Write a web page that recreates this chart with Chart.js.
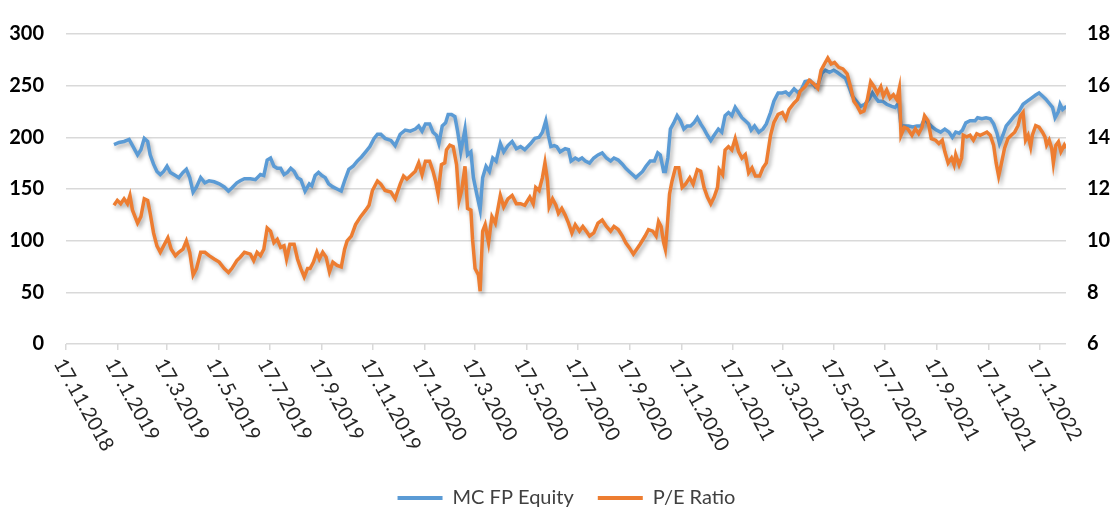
<!DOCTYPE html>
<html>
<head>
<meta charset="utf-8">
<script src="https://cdn.jsdelivr.net/npm/chart.js@4.4.1/dist/chart.umd.min.js"></script>
<style>
html,body{margin:0;padding:0;background:#ffffff;}
#wrap{width:1113px;height:511px;position:relative;}
</style>
</head>
<body>
<div id="wrap"><canvas id="c" width="1113" height="511"></canvas></div>
<script>
// ---- axis range & tick labels ----
const AXIS_START = "17.11.2018";
const AXIS_END = "17.2.2022";
const tickLabels = ["17.11.2018","17.1.2019","17.3.2019","17.5.2019","17.7.2019","17.9.2019","17.11.2019",
  "17.1.2020","17.3.2020","17.5.2020","17.7.2020","17.9.2020","17.11.2020","17.1.2021","17.3.2021",
  "17.5.2021","17.7.2021","17.9.2021","17.11.2021","17.1.2022"];
const leftAxis = {min: 0, max: 300, step: 50};
const rightAxis = {min: 6, max: 18, step: 2};
const seriesNames = ["MC FP Equity", "P/E Ratio"];

// ---- MC FP Equity (left axis): days after 17.11.2018, values ----
const mcDays = [57,63,69,75,81,85,89,93,97,100,104,108,112,116,120,124,130,134,139,143,147,151,155,160,165,170,176,182,188,193,197,203,207,212,
219,225,231,235,239,243,247,251,255,259,263,267,271,275,279,284,289,292,296,300,304,308,312,317,322,327,331,336,341,346,351,356,361,366,370,374,379,
386,391,397,403,409,415,419,423,427,432,436,440,443,447,451,454,458,462,465,469,474,477,481,484,488,492,495,499,503,507,511,516,520,525,530,535,540,545,
552,557,562,566,570,573,576,580,583,587,593,597,600,605,609,613,617,622,627,632,637,642,647,651,656,661,665,669,673,677,681,685,689,694,699,703,706,710,
712,715,718,722,726,730,734,738,742,746,750,754,758,762,766,770,775,779,783,787,791,795,799,803,807,811,814,818,823,828,832,837,841,846,851,855,859,865,870,874,878,
884,890,894,898,902,907,912,916,921,926,930,934,939,944,949,954,958,962,965,970,975,981,985,989,992,996,1001,1006,1011,1016,1020,1024,1029,1034,1039,1044,
1049,1053,1057,1061,1065,1069,1074,1080,1083,1088,1093,1098,1102,1106,1109,1113,1117,1122,1127,1132,1137,1142,1147,1152,1156,1160,1164,1168,1172,1175,1179,1181,1184,1187,1188];
const mcValues = [193,195,196,198,189,183,188,199,196,183,174,167,164,167,172,166,163,161,166,169,161,147,152,161,156,158,157,155,152,148,151,156,158,160,
160,159,164,163,178,180,172,170,170,164,166,170,167,161,159,148,155,153,163,166,163,161,155,152,150,148,158,169,172,177,181,186,191,199,203,203,199,
197,192,203,207,206,208,211,206,213,213,205,202,194,211,214,222,222,220,207,186,208,183,186,161,145,130,161,172,167,180,177,194,186,192,196,189,191,188,
194,199,200,205,216,202,191,192,191,186,189,188,177,180,178,180,177,175,180,183,185,180,177,180,178,174,170,167,164,161,164,167,172,177,177,185,183,167,
167,180,208,214,221,216,208,211,211,214,219,213,208,202,197,202,208,205,221,224,221,229,224,219,216,213,207,211,205,208,213,224,235,243,243,244,241,247,243,247,254,
255,249,252,262,265,263,265,263,260,257,249,240,235,230,232,237,243,238,235,235,232,230,229,233,211,211,211,210,211,211,218,214,210,207,205,208,
205,200,205,204,207,214,216,216,219,218,219,218,213,204,194,202,211,216,221,225,232,235,238,241,243,240,237,233,229,219,225,232,227,229,228];

// ---- P/E Ratio (right axis): days after 17.11.2018, values ----
const peDays = [57,61,65,69,73,76,79,85,89,93,97,100,104,108,112,116,121,125,130,134,139,143,147,151,155,160,165,170,176,182,188,193,197,203,207,212,
219,223,227,231,235,239,243,247,251,255,259,262,266,271,275,279,283,287,290,294,298,301,305,309,313,317,322,327,331,334,339,344,350,356,360,364,370,374,379,
386,391,397,401,405,409,415,419,423,427,432,436,439,442,446,450,452,456,460,464,467,470,474,477,481,483,486,490,492,495,498,502,506,510,516,520,525,530,535,540,545,
551,555,558,562,566,569,572,574,578,582,585,589,593,597,601,605,610,614,618,622,627,632,637,642,647,651,656,661,665,669,674,678,682,688,692,697,701,704,707,710,
712,714,717,720,724,728,732,736,741,745,750,754,758,762,766,770,774,776,780,783,787,791,795,799,803,807,811,815,819,824,828,832,837,841,846,851,855,859,865,869,872,878,
883,888,893,897,901,905,909,913,918,923,928,932,936,940,944,948,952,956,960,964,968,971,975,979,983,987,990,992,996,1000,1005,1009,1013,1017,1020,1024,1028,1033,1037,1041,1044,
1048,1052,1055,1057,1061,1064,1066,1070,1074,1078,1082,1086,1090,1094,1098,1102,1105,1108,1111,1115,1119,1123,1127,1131,1134,1137,1140,1143,1146,1148,1152,1156,1160,1163,1165,1168,1171,1173,1176,1179,1182,1186,1188];
const peValues = [11.37,11.56,11.43,11.62,11.43,11.75,11.18,10.68,10.93,11.62,11.56,11.06,10.30,9.80,9.55,9.80,10.11,9.67,9.42,9.55,9.67,9.99,9.55,8.67,8.92,9.55,9.55,9.42,9.29,9.17,8.92,8.77,8.92,9.23,9.36,9.55,
9.48,9.23,9.55,9.42,9.67,10.49,10.37,9.92,10.05,9.74,9.80,9.29,9.86,9.86,9.29,8.92,8.60,8.92,8.92,9.17,9.55,9.29,9.55,9.36,8.79,9.17,9.04,8.98,9.67,9.99,10.18,10.62,10.93,11.18,11.37,11.94,12.31,12.19,11.94,
11.88,11.62,12.19,12.50,12.38,12.50,12.69,13.01,12.56,13.07,13.07,12.69,12.31,11.81,12.94,13.01,13.51,13.70,13.64,12.94,11.56,11.94,12.88,11.25,11.18,10.05,8.92,8.67,8.04,10.37,10.62,9.92,10.93,10.68,11.75,11.31,11.62,11.75,11.43,11.43,11.37,
11.69,11.43,12.06,11.94,12.44,13.01,12.31,11.31,11.62,11.37,11.06,11.25,10.99,10.68,10.30,10.62,10.37,10.55,10.37,10.18,10.30,10.68,10.80,10.55,10.37,10.55,10.43,10.18,9.92,9.74,9.48,9.67,9.86,10.18,10.43,10.37,10.18,10.74,10.55,9.92,
9.67,10.43,11.81,12.31,12.82,12.82,12.06,12.19,12.44,12.19,12.75,12.69,12.06,11.69,11.43,11.69,12.06,12.75,12.56,13.51,13.64,13.51,13.95,13.45,13.20,13.33,12.63,12.82,12.50,12.50,12.82,13.01,14.08,14.58,14.89,14.96,14.71,15.08,15.33,15.46,15.77,15.96,
16.21,16.08,15.90,16.59,16.84,17.07,16.84,16.90,16.71,16.65,16.46,15.96,15.40,15.21,14.96,15.02,15.46,16.15,15.96,15.71,15.96,15.59,15.84,15.52,15.65,15.46,15.90,14.08,14.39,14.33,14.08,14.33,14.14,14.39,14.83,14.64,13.95,13.89,13.76,13.89,13.45,
13.01,13.20,12.94,13.33,12.94,13.20,14.08,14.02,14.08,13.89,14.14,14.08,14.14,14.20,14.08,13.70,13.01,12.50,12.94,13.58,13.95,14.08,14.20,14.45,14.83,14.96,13.89,14.08,13.64,14.08,14.45,14.39,14.20,14.02,13.70,13.89,13.58,13.01,13.70,13.83,13.45,13.70,13.58];

// ---- helpers ----
function parseDMY(s){ const p = s.split('.').map(Number); return Date.UTC(p[2], p[1]-1, p[0]); }
const START_MS = parseDMY(AXIS_START);
function dayOf(s){ return Math.round((parseDMY(s) - START_MS) / 86400000); }

const FONT = 'Lato, "Liberation Sans", Arial, sans-serif';
const BLUE = '#5B9BD5';
const ORANGE = '#ED7D31';

const shadowPlugin = {
  id: 'lineShadow',
  beforeDatasetDraw(chart) {
    const c = chart.ctx;
    c.save();
    c.shadowColor = 'rgba(0,0,0,0.32)';
    c.shadowBlur = 4;
    c.shadowOffsetX = 2;
    c.shadowOffsetY = 3;
  },
  afterDatasetDraw(chart) { chart.ctx.restore(); }
};

const xLabelPlugin = {
  id: 'rotatedXLabels',
  afterDraw(chart) {
    const xs = chart.scales.x;
    const c = chart.ctx;
    const base = chart.chartArea.bottom;
    c.save();
    c.font = '20px ' + FONT;
    c.fillStyle = '#262626';
    c.textAlign = 'left';
    c.textBaseline = 'middle';
    tickLabels.forEach(l => {
      const px = xs.getPixelForValue(dayOf(l));
      c.save();
      c.translate(px - 7, base + 16);
      c.rotate(61 * Math.PI / 180);
      c.fillText(l, 0, 0);
      c.restore();
    });
    c.restore();
  }
};

const legendShift = {
  id: 'legendShift',
  afterLayout(chart) {
    const lg = chart.legend;
    if (lg) { lg.left += 10; lg.right += 10; }
  }
};

const ctx = document.getElementById('c').getContext('2d');
new Chart(ctx, {
  type: 'line',
  data: {
    datasets: [
      {
        label: seriesNames[0],
        data: mcDays.map((d, i) => ({x: d, y: mcValues[i]})),
        yAxisID: 'y',
        borderColor: BLUE, backgroundColor: BLUE,
        borderWidth: 3.5, pointRadius: 0, tension: 0, order: 1
      },
      {
        label: seriesNames[1],
        data: peDays.map((d, i) => ({x: d, y: peValues[i]})),
        yAxisID: 'y1',
        borderColor: ORANGE, backgroundColor: ORANGE,
        borderWidth: 3.5, pointRadius: 0, tension: 0, order: 0
      }
    ]
  },
  options: {
    responsive: false,
    animation: false,
    devicePixelRatio: 1,
    layout: { padding: { top: 26, bottom: -7, left: 0, right: 0 } },
    plugins: {
      tooltip: { enabled: false },
      legend: {
        position: 'bottom',
        labels: {
          boxWidth: 45, boxHeight: 4, padding: 24,
          color: '#404040',
          font: { family: FONT, size: 20 },
          sort: (a, b) => a.datasetIndex - b.datasetIndex,
          generateLabels: (chart) => Chart.defaults.plugins.legend.labels.generateLabels(chart)
            .map(l => Object.assign(l, { lineWidth: 0 }))
        }
      }
    },
    scales: {
      x: {
        type: 'linear',
        min: 0,
        max: dayOf(AXIS_END),
        afterBuildTicks: (s) => { s.ticks = tickLabels.map(l => ({ value: dayOf(l) })); },
        afterFit: (s) => { s.height = 120; },
        ticks: { display: false },
        grid: { drawOnChartArea: false, drawTicks: true, tickLength: 6, color: '#d9d9d9', lineWidth: 1.5 },
        border: { display: false }
      },
      y: {
        position: 'left',
        min: leftAxis.min, max: leftAxis.max,
        afterFit: (s) => { s.width = 66; },
        ticks: { stepSize: leftAxis.step, padding: 22, color: '#000000', font: { family: FONT, size: 20, weight: 'bold' } },
        grid: { color: '#d9d9d9', lineWidth: 1.5, drawTicks: false },
        border: { display: false }
      },
      y1: {
        position: 'right',
        min: rightAxis.min, max: rightAxis.max,
        afterFit: (s) => { s.width = 47; },
        ticks: { stepSize: rightAxis.step, padding: 21, color: '#000000', font: { family: FONT, size: 20, weight: 'bold' } },
        grid: { display: false, drawTicks: false },
        border: { display: false }
      }
    }
  },
  plugins: [shadowPlugin, xLabelPlugin, legendShift]
});
</script>
</body>
</html>
